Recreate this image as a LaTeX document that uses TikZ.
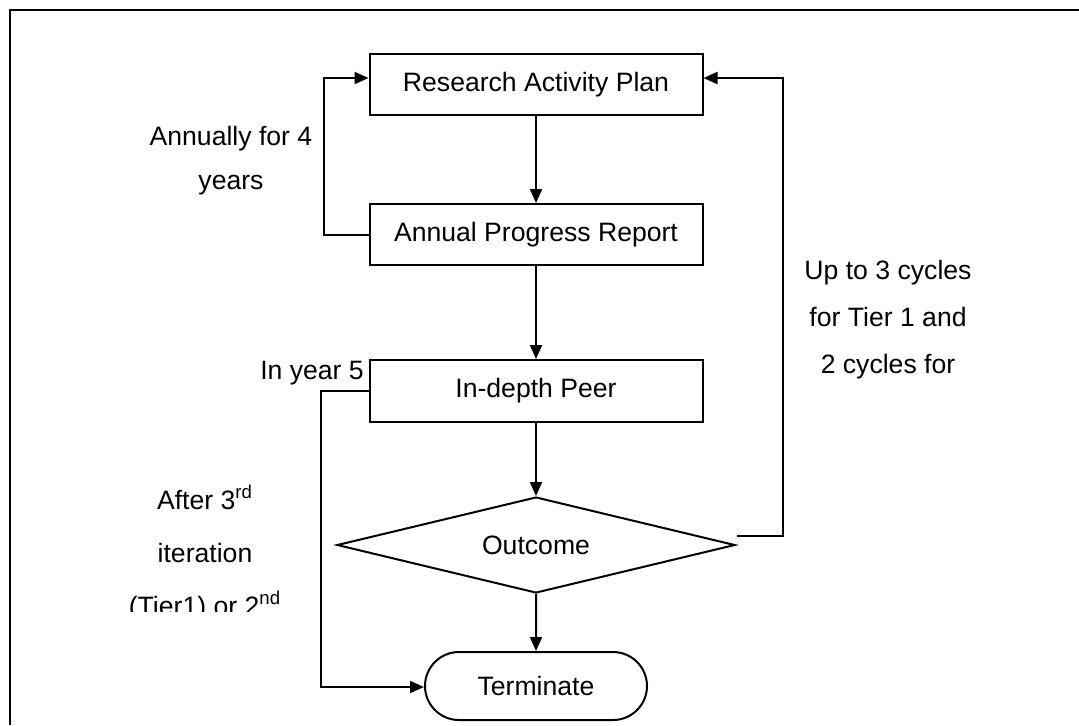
\documentclass[tikz,border=0pt]{standalone}
\usepackage{fontspec}
\setmainfont{Liberation Sans}
\usetikzlibrary{positioning, arrows.meta, shapes.geometric, shapes.misc}

\tikzset{
  txt/.style={font=\fontsize{13.3}{16}\selectfont, align=center, inner sep=0pt},
  box/.style={txt, draw, line width=1pt, minimum width=166.5pt, minimum height=30.5pt},
  decide/.style={txt, draw, line width=1pt, diamond, aspect=4.1, minimum width=199pt, minimum height=48pt},
  stopbox/.style={txt, draw, line width=1pt, rounded rectangle, minimum width=111pt, minimum height=34pt},
  arr/.style={line width=1pt, -{Triangle[length=7pt,width=6pt]}}
}

\begin{document}
\begin{tikzpicture}[x=0.5pt, y=-0.5pt]
\useasboundingbox (0,0) rectangle (1079,725);
\draw[line width=1pt] (10,725) -- (10,10) -- (1079,10);

\node[box] (plan) at (536,84.5) {Research Activity Plan};
\node[box] (report) at (536,234.5) {Annual Progress Report};
\node[box, minimum height=31pt] (peer) at (536,391) {In-depth Peer};
\node[decide] (outcome) at (536,545) {Outcome};
\node[stopbox] (stop) at (536,686) {Terminate};

\draw[arr] (plan) -- (report);
\draw[arr] (report) -- (peer);
\draw[arr] (peer) -- (outcome);
\draw[arr] (outcome) -- (stop);

\coordinate (lt) at (324,78);
\coordinate (rt) at (783,78);
\coordinate (rb) at (737,536);
\coordinate (lb) at (321,687);
\draw[arr] (report.west) -| (lt) -- (lt -| plan.west);
\draw[arr] (rb) -| (rt) -- (rt -| plan.east);
\draw[arr] (peer.west) -| (lb) -- (lb -| stop.west);

\node[txt] (annual) at (231,161) {Annually for 4\\[6pt] years};
\node[txt, anchor=base] (year5) at (312,379) {In year 5};
\node[txt] (cycles) at (888,320) {Up to 3 cycles\\[7.5pt] for Tier 1 and\\[7.5pt] 2 cycles for};
\begin{scope}
  \clip (0,0) rectangle (1079,611);
  \node[txt] (after) at (205,553) {After 3\textsuperscript{rd}\\[10.5pt] iteration\\[10.5pt] (Tier1) or 2\textsuperscript{nd}};
\end{scope}
\end{tikzpicture}
\end{document}
